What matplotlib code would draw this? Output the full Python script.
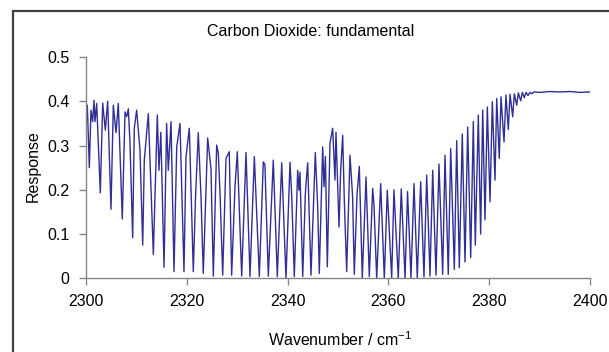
import matplotlib
matplotlib.use("Agg")
import matplotlib.pyplot as plt
from matplotlib.patches import Rectangle

plt.rcParams["font.family"] = ["Liberation Sans", "DejaVu Sans"]
plt.rcParams["mathtext.fontset"] = "custom"
plt.rcParams["mathtext.rm"] = "Liberation Sans"
plt.rcParams["mathtext.default"] = "regular"

# CO2 asymmetric-stretch band: turning points of the recorded trace
wavenumber = [
    2300.00, 2300.26, 2300.66, 2300.99, 2301.32, 2301.59, 2301.79, 2302.12,
    2302.84, 2303.31, 2303.83, 2304.30, 2304.96, 2305.42, 2305.95, 2306.41,
    2307.20, 2307.74, 2308.07, 2308.40, 2308.73, 2309.26, 2309.58, 2310.05,
    2310.71, 2311.25, 2311.57, 2312.37, 2313.36, 2314.15, 2314.48, 2314.85,
    2315.48, 2316.00, 2316.33, 2316.87, 2317.46, 2318.00, 2318.65, 2319.44,
    2319.84, 2320.50, 2321.29, 2321.76, 2322.28, 2322.82, 2323.27, 2324.14,
    2324.80, 2325.26, 2325.93, 2326.25, 2326.59, 2327.12, 2327.78, 2328.43,
    2328.90, 2329.56, 2330.02, 2330.89, 2331.75, 2332.54, 2333.40, 2334.39,
    2335.18, 2335.50, 2336.17, 2337.16, 2337.96, 2338.83, 2339.68, 2340.48,
    2340.81, 2341.33, 2342.00, 2342.26, 2342.46, 2343.00, 2343.51, 2343.65,
    2343.99, 2344.64, 2345.50, 2345.97, 2346.29, 2346.96, 2347.22, 2347.50,
    2347.88, 2348.41, 2348.94, 2349.40, 2349.60, 2350.20, 2350.53, 2350.93,
    2351.25, 2351.72, 2352.38, 2352.90, 2353.23, 2353.77, 2354.23, 2354.82,
    2355.56, 2356.21, 2356.88, 2357.14, 2357.68, 2358.47, 2359.19, 2359.78,
    2360.65, 2361.10, 2361.96, 2362.55, 2363.30, 2363.80, 2364.48, 2365.08,
    2365.73, 2366.40, 2367.06, 2367.60, 2368.25, 2368.79, 2369.44, 2370.04,
    2370.77, 2371.23, 2371.88, 2372.36, 2373.08, 2373.55, 2374.07, 2374.66,
    2375.20, 2375.73, 2376.33, 2376.85, 2377.24, 2377.84, 2378.30, 2378.71,
    2379.17, 2379.63, 2380.16, 2380.62, 2381.15, 2381.49, 2382.00, 2382.34,
    2382.94, 2383.33, 2383.79, 2384.13, 2384.66, 2384.98, 2385.46, 2385.78,
    2386.25, 2386.57, 2386.97, 2387.30, 2387.70, 2388.10, 2388.49, 2388.90,
    2390.00, 2392.00, 2394.00, 2396.00, 2398.00, 2400.00,
]

response = [
    0.342, 0.391, 0.250, 0.380, 0.354, 0.402, 0.354, 0.395,
    0.193, 0.396, 0.335, 0.400, 0.156, 0.391, 0.329, 0.395,
    0.134, 0.376, 0.365, 0.383, 0.305, 0.092, 0.339, 0.380,
    0.290, 0.075, 0.267, 0.372, 0.054, 0.369, 0.244, 0.330,
    0.025, 0.350, 0.244, 0.354, 0.015, 0.297, 0.350, 0.015,
    0.274, 0.339, 0.015, 0.192, 0.329, 0.184, 0.011, 0.317,
    0.248, 0.005, 0.301, 0.283, 0.192, 0.007, 0.271, 0.286,
    0.007, 0.207, 0.286, 0.005, 0.284, 0.004, 0.275, 0.004,
    0.263, 0.257, 0.005, 0.267, 0.004, 0.261, 0.000, 0.262,
    0.188, 0.004, 0.244, 0.199, 0.240, 0.004, 0.188, 0.214,
    0.261, 0.007, 0.284, 0.162, 0.011, 0.297, 0.207, 0.275,
    0.026, 0.305, 0.339, 0.222, 0.330, 0.116, 0.244, 0.323,
    0.177, 0.015, 0.278, 0.184, 0.009, 0.188, 0.253, 0.001,
    0.229, 0.004, 0.203, 0.165, 0.000, 0.214, 0.000, 0.199,
    0.000, 0.200, 0.000, 0.202, 0.000, 0.196, 0.001, 0.214,
    0.001, 0.218, 0.003, 0.233, 0.005, 0.244, 0.007, 0.258,
    0.009, 0.278, 0.009, 0.293, 0.020, 0.311, 0.024, 0.326,
    0.037, 0.342, 0.047, 0.354, 0.075, 0.369, 0.100, 0.380,
    0.132, 0.387, 0.173, 0.399, 0.222, 0.406, 0.271, 0.410,
    0.308, 0.414, 0.336, 0.416, 0.365, 0.417, 0.391, 0.419,
    0.401, 0.420, 0.408, 0.420, 0.413, 0.420, 0.417, 0.421,
    0.420, 0.422, 0.421, 0.422, 0.420, 0.421,
]

x_ticks = [2300, 2320, 2340, 2360, 2380, 2400]
y_ticks = [0, 0.1, 0.2, 0.3, 0.4, 0.5]
y_tick_labels = ["0", "0.1", "0.2", "0.3", "0.4", "0.5"]

W, H = 609, 352
fig = plt.figure(figsize=(W / 100, H / 100), dpi=100)
fig.patch.set_facecolor("white")

# chart-area border (runs off the right and bottom of the canvas)
fig.add_artist(Rectangle((12.5 / W, -0.05), 1.2, (H - 11) / H + 0.05,
                         transform=fig.transFigure, fill=False,
                         edgecolor="#404040", linewidth=1.6))

left, right, top, bottom = 86, 590, 57, 278.3
ax = fig.add_axes([left / W, (H - bottom) / H, (right - left) / W, (bottom - top) / H])
ax.plot(wavenumber, response, color="#2f2f96", linewidth=1.0)

ax.set_xlim(2300, 2400)
ax.set_ylim(0, 0.5)
ax.set_xticks(x_ticks)
ax.set_xticklabels([str(t) for t in x_ticks])
ax.set_yticks(y_ticks)
ax.set_yticklabels(y_tick_labels)

for side in ("top", "right"):
    ax.spines[side].set_visible(False)
for side in ("left", "bottom"):
    ax.spines[side].set_color("#868686")
    ax.spines[side].set_linewidth(1.0)

ax.tick_params(axis="both", direction="out", length=5, width=1.0,
               color="#868686", labelsize=11.5, labelcolor="black")
ax.tick_params(axis="y", pad=7)
ax.tick_params(axis="x", pad=6)

fig.text(311 / W, 1 - 32 / H, "Carbon Dioxide: fundamental",
         ha="center", va="center", fontsize=11.5)
fig.text(340 / W, 1 - 340 / H, "Wavenumber / cm$^{-1}$",
         ha="center", va="center", fontsize=11.5)
fig.text(33 / W, 1 - 166 / H, "Response", rotation=90,
         ha="center", va="center", fontsize=11.5)

fig.savefig("out.png", dpi=100, facecolor="white")
